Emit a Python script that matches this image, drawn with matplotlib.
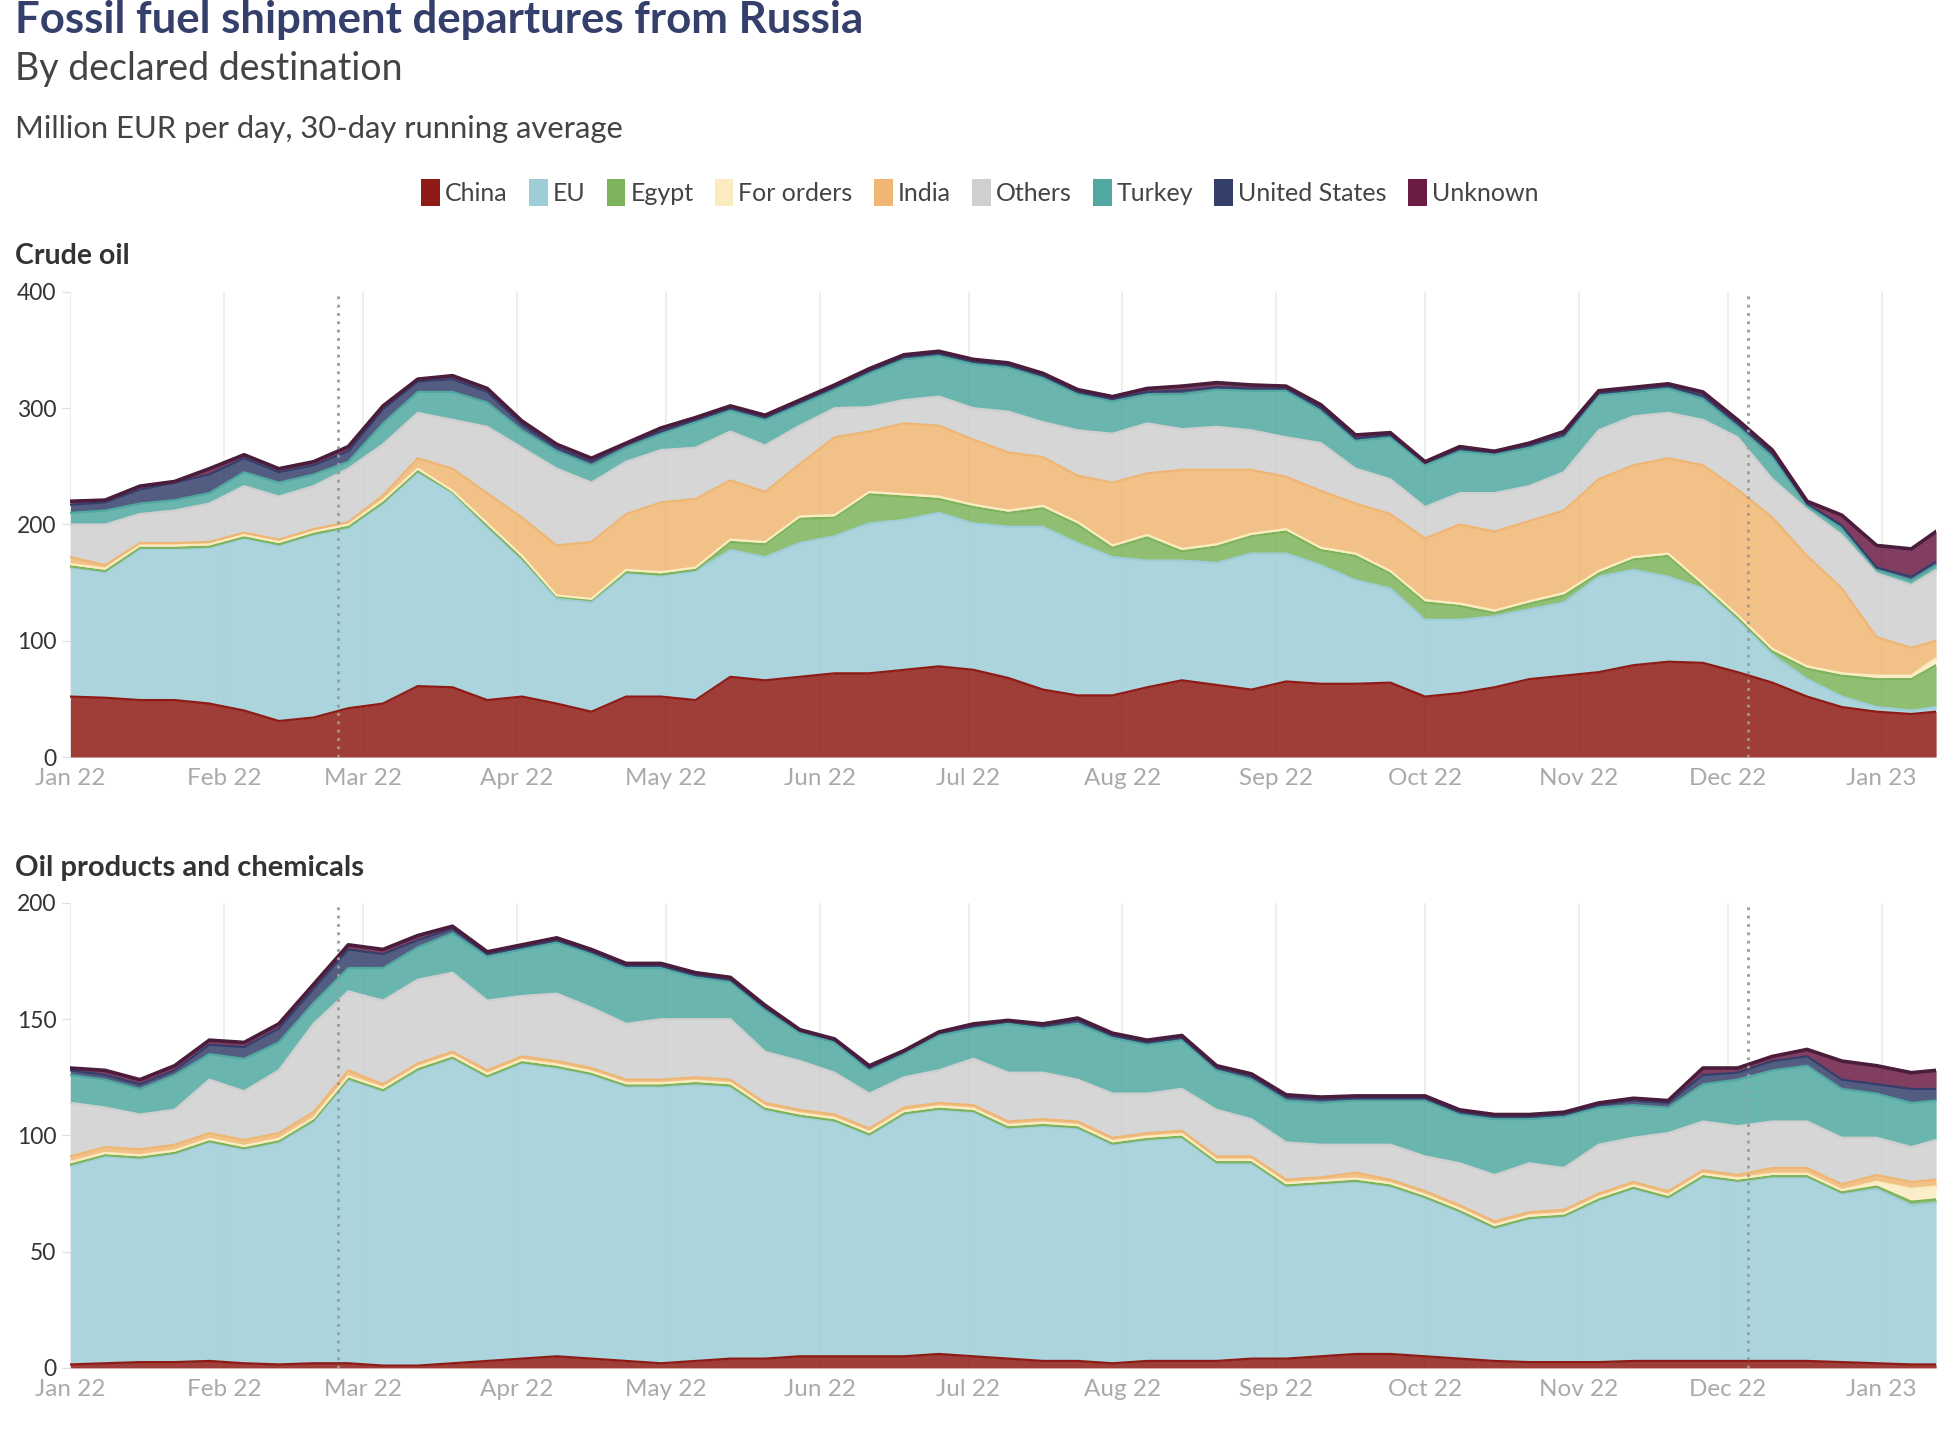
import numpy as np
import matplotlib
matplotlib.use("Agg")
import matplotlib.pyplot as plt
from matplotlib.patches import Patch

plt.rcParams['font.family'] = ['Lato', 'DejaVu Sans']

# sample days (days after 1 Jan 2022), weekly readings
days = [0, 7, 14, 21, 28, 35, 42, 49, 56, 63, 70, 77, 84, 91, 98, 105, 112, 119, 126, 133,
        140, 147, 154, 161, 168, 175, 182, 189, 196, 203, 210, 217, 224, 231, 238, 245, 252,
        259, 266, 273, 280, 287, 294, 301, 308, 315, 322, 329, 336, 343, 350, 357, 364, 371, 376]

names = ["China", "EU", "Egypt", "For orders", "India", "Others", "Turkey", "United States", "Unknown"]
colors = ["#8e1b15", "#9dcdd6", "#7db35a", "#fbecc0", "#efb673", "#cfcfcf", "#51a8a1", "#353f6b", "#6b1c44"]

# Crude oil, million EUR/day
crude_china = [52, 51, 49, 49, 46, 40, 31, 34, 42, 46, 61, 60, 49, 52, 46, 39, 52, 52, 49, 69,
               66, 69, 72, 72, 75, 78, 75, 68, 58, 53, 53, 60, 66, 62, 58, 65, 63, 63, 64, 52,
               55, 60, 67, 70, 73, 79, 82, 81, 73, 64, 52, 43, 39, 37, 39]
crude_eu = [111, 108, 130, 130, 134, 148, 151, 157, 155, 172, 184, 167, 148, 118, 90, 94, 106, 104, 111, 109,
            106, 115, 118, 129, 129, 132, 126, 130, 140, 131, 119, 109, 103, 105, 117, 110, 102, 89, 81, 66,
            63, 61, 60, 63, 82, 82, 73, 64, 45, 24, 15, 9, 4, 3, 4]
crude_egypt = [1, 1, 1, 1, 1, 1, 1, 1, 1, 1, 1, 1, 2, 1, 2, 2, 1, 1, 1, 7,
               11, 21, 16, 25, 20, 12, 14, 12, 16, 16, 8, 20, 8, 14, 15, 19, 13, 21, 13, 15,
               12, 3, 5, 6, 3, 9, 18, 2, 2, 3, 9, 18, 24, 27, 36]
crude_orders = [2, 2, 2, 2, 2, 2, 2, 2, 2, 2, 2, 1, 2, 2, 1, 1, 2, 2, 2, 2,
                2, 2, 2, 2, 2, 2, 2, 2, 2, 2, 2, 2, 2, 2, 2, 2, 2, 2, 2, 2,
                2, 2, 2, 2, 2, 2, 2, 2, 2, 2, 2, 2, 3, 3, 6]
crude_india = [6, 3, 2, 2, 2, 2, 2, 2, 2, 4, 9, 19, 26, 33, 43, 49, 48, 60, 59, 51,
               43, 45, 67, 52, 61, 61, 56, 50, 42, 40, 54, 53, 68, 64, 55, 45, 49, 43, 49, 53,
               68, 68, 69, 71, 79, 79, 82, 102, 108, 113, 95, 73, 33, 24, 15]
crude_others = [28, 35, 25, 28, 33, 40, 37, 37, 46, 44, 39, 42, 57, 60, 66, 51, 45, 45, 44, 42,
                40, 33, 25, 21, 20, 25, 27, 35, 30, 39, 42, 43, 35, 37, 34, 34, 41, 30, 30, 27,
                27, 33, 30, 33, 42, 42, 39, 39, 45, 33, 40, 46, 55, 54, 61]
crude_turkey = [10, 12, 9, 9, 9, 12, 12, 10, 6, 18, 18, 24, 21, 15, 15, 15, 12, 14, 22, 18,
                22, 18, 16, 29, 35, 35, 38, 38, 38, 31, 28, 25, 30, 32, 34, 40, 28, 24, 36, 36,
                36, 33, 33, 30, 30, 21, 21, 18, 9, 19, 3, 6, 3, 4, 4]
crude_us = [7, 7, 12, 15, 16, 12, 9, 8, 9, 12, 9, 11, 9, 5, 3, 3, 3, 2, 2, 2,
            2, 2, 2, 2, 2, 2, 2, 2, 2, 2, 2, 2, 3, 2, 2, 2, 2, 2, 2, 2,
            2, 2, 2, 2, 2, 2, 2, 3, 3, 3, 2, 2, 2, 3, 3]
crude_unknown = [3, 2, 3, 1, 5, 3, 3, 3, 4, 3, 2, 3, 3, 3, 3, 3, 1, 3, 2, 2,
                 2, 2, 2, 2, 2, 2, 2, 2, 2, 2, 2, 3, 4, 4, 3, 2, 3, 3, 2, 1,
                 2, 1, 2, 3, 2, 2, 2, 3, 3, 3, 2, 9, 19, 24, 26]

# Oil products and chemicals, million EUR/day
prod_china = [1.5, 2, 2.5, 2.5, 3, 2, 1.5, 2, 2, 1, 1, 2, 3, 4, 5, 4, 3, 2, 3, 4,
              4, 5, 5, 5, 5, 6, 5, 4, 3, 3, 2, 3, 3, 3, 4, 4, 5, 6, 6, 5,
              4, 3, 2.5, 2.5, 2.5, 3, 3, 3, 3, 3, 3, 2.5, 2, 1.5, 1.5]
prod_eu = [85.5, 89, 87.5, 89.5, 94, 92, 95.5, 104, 122, 118, 127, 131, 122, 127, 124, 122, 118, 119, 119, 117,
           107, 103, 101, 95, 104, 105, 105, 99, 101, 100, 94, 95, 96, 85, 84, 74, 74, 74, 72, 68,
           63, 57, 61.5, 62.5, 69.5, 74, 70, 79, 77, 79, 79, 72.5, 75, 68.5, 69.5]
prod_egypt = [0.5] * 52 + [1, 1.5, 1.5]
prod_orders = [1] * 52 + [2, 5.5, 5.5]
prod_india = [2.5] * 9 + [1.5] * 28 + [2.5] + [1.5] * 11 + [2.5, 2.5, 2.5, 3, 3, 3]
prod_others = [23, 17, 15, 15, 23, 21, 27, 38, 34, 36, 36, 34, 30, 26, 29, 26, 24, 26, 25, 26,
               22, 21, 18, 15, 13, 14, 20, 21, 20, 18, 19, 17, 18, 20, 16, 16, 14, 12, 15, 15,
               18, 20, 21, 18, 21, 19, 25, 21, 21, 20, 20, 20, 16, 15, 17]
prod_turkey = [12, 12, 11, 15, 11, 14, 12, 9, 10, 14, 14, 17, 19, 20, 22, 23, 24, 22, 18, 16,
               18, 12, 13, 10, 10, 15, 13, 21, 19, 24, 24, 21, 21, 17, 17, 18, 18, 19, 19, 24,
               21, 24, 19, 22, 16, 14, 11, 16, 20, 22, 24, 21, 19, 19, 17]
prod_us = [2, 2, 2, 2, 4, 5, 6, 6, 8, 6, 3, 2, 1, 1, 1, 1, 1, 1, 1, 1,
           1, 1, 1, 1, 1, 1, 1, 1, 1, 1.5, 1, 1, 1, 1, 1.5, 1.5, 1.5, 1, 1, 1,
           1, 1, 1, 1, 1, 2, 2, 4, 3, 4, 4, 4, 4, 6, 5]
prod_unknown = [1, 2, 2, 2, 2, 2, 2, 2, 2, 2, 2, 1, 1, 1, 1, 1, 1, 1, 1, 1,
                1, 0.5, 0.5, 1, 0.5, 0.5, 1, 0.5, 1, 1, 1, 1, 1, 1, 1, 1, 1, 1, 1, 1,
                1, 1, 1, 1, 1, 1, 1, 3, 2, 2, 3, 8, 8, 7, 8]

crude = [crude_china, crude_eu, crude_egypt, crude_orders, crude_india,
         crude_others, crude_turkey, crude_us, crude_unknown]
products = [prod_china, prod_eu, prod_egypt, prod_orders, prod_india,
            prod_others, prod_turkey, prod_us, prod_unknown]

start = np.datetime64('2022-01-01')
dates = start + np.array(days).astype('timedelta64[D]')
months = np.arange(np.datetime64('2022-01'), np.datetime64('2023-02'), np.timedelta64(1, 'M')).astype('datetime64[D]')
month_labels = ["Jan 22", "Feb 22", "Mar 22", "Apr 22", "May 22", "Jun 22", "Jul 22",
                "Aug 22", "Sep 22", "Oct 22", "Nov 22", "Dec 22", "Jan 23"]
events = [np.datetime64('2022-02-24'), np.datetime64('2022-12-05')]


def draw(ax, series, ymax, yticks):
    tops = np.cumsum(np.array(series, dtype=float), axis=0)
    bottoms = np.vstack([np.zeros(len(days)), tops[:-1]])
    for i in range(len(series)):
        ax.fill_between(dates, bottoms[i], tops[i], color=colors[i], alpha=0.85, lw=0, zorder=2)
        ax.plot(dates, tops[i], color=colors[i], lw=1.6, zorder=3)
    ax.plot(dates, tops[-1], color="#4a1d3c", lw=2.6, zorder=4)
    for m in months:
        ax.axvline(m, color="#ebebeb", lw=1.2, zorder=1)
    for e in events:
        ax.axvline(e, color="#9a9a9a", lw=2, ls=(0, (1, 2)), zorder=5)
    ax.set_xlim(start, start + np.timedelta64(376, 'D'))
    ax.set_ylim(0, ymax)
    ax.set_yticks(yticks)
    ax.set_yticklabels([str(t) for t in yticks])
    ax.set_xticks(months)
    ax.set_xticklabels(month_labels)
    ax.tick_params(axis='x', length=0, colors="#aaaaaa", labelsize=17.5, pad=8)
    ax.tick_params(axis='y', length=6, color="#dddddd", labelcolor="#333333", labelsize=16.5, pad=4)
    for s in ax.spines.values():
        s.set_visible(False)


fig = plt.figure(figsize=(19.4, 14.36), dpi=100)
ax1 = fig.add_axes([0.0363, 0.4728, 0.9617, 0.3239])
ax2 = fig.add_axes([0.0363, 0.0474, 0.9617, 0.3238])
draw(ax1, crude, 400, [0, 100, 200, 300, 400])
draw(ax2, products, 200, [0, 50, 100, 150, 200])

fig.text(0.0077, 0.986, "Fossil fuel shipment departures from Russia", fontsize=31.5,
         fontweight='bold', color="#343f6b", va='center', ha='left')
fig.text(0.0077, 0.952, "By declared destination", fontsize=27, color="#444444", va='center', ha='left')
fig.text(0.0077, 0.910, "Million EUR per day, 30-day running average", fontsize=22.3,
         color="#444444", va='center', ha='left')
fig.text(0.0077, 0.8217, "Crude oil", fontsize=20.5, fontweight='bold', color="#333333", va='center')
fig.text(0.0077, 0.3952, "Oil products and chemicals", fontsize=21, fontweight='bold',
         color="#333333", va='center')

handles = [Patch(facecolor=c, edgecolor='none') for c in colors]
fig.legend(handles, names, loc='center', bbox_to_anchor=(0.505, 0.866), ncol=9, frameon=False,
           fontsize=18, handlelength=0.75, handleheight=1.3, handletextpad=0.2,
           columnspacing=0.85, labelcolor="#444444")

fig.savefig("out.png", dpi=100, facecolor='white')
